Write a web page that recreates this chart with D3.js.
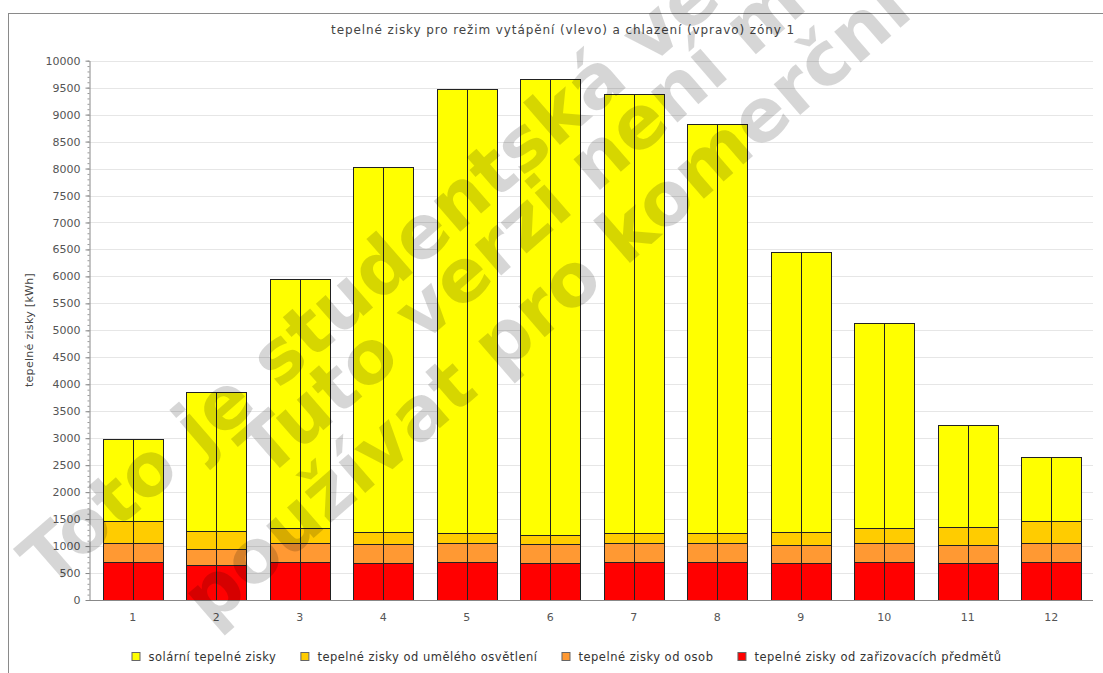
<!DOCTYPE html>
<html><head><meta charset="utf-8">
<script src="https://cdn.jsdelivr.net/npm/d3@7"></script>
<style>
body{margin:0;background:#fff;}
text{font-family:"DejaVu Sans",sans-serif;}
</style>
</head><body>
<svg id="chart" width="1103" height="673"></svg>
<script>
const months = ["1","2","3","4","5","6","7","8","9","10","11","12"];
const regimes = ["vytápění","chlazení"];
const seriesNames = ["tepelné zisky od zařizovacích předmětů","tepelné zisky od osob","tepelné zisky od umělého osvětlení","solární tepelné zisky"];
const appliances = [700, 648, 700, 682, 702, 690, 702, 702, 684, 702, 684, 702];
const people     = [348, 297, 351, 351, 349, 355, 349, 349, 342, 349, 342, 349];
const lighting   = [410, 328, 290, 222, 185, 160, 185, 185, 229, 284, 334, 414];
const solar      = [1532, 2592, 4607, 6777, 8246, 8458, 8140, 7593, 5201, 3800, 1885, 1186];
const seriesColors = ["#ff0000","#ff9933","#ffcc00","#ffff00"];
const legendOrder = [3,2,1,0];
const yTicks = d3.range(0, 10001, 500);
const yMinorTicks = d3.range(0, 10001, 100);
const chartTitle = "tepelné zisky pro režim vytápění (vlevo) a chlazení (vpravo) zóny 1";
const yTitle = "tepelné zisky [kWh]";
const watermarkLines = ["Toto je studentská verze","Tuto verzi není možné","používat pro komerční"];

const svg = d3.select("#chart");
const pLeft = 89, pRight = 1093, pTop = 60.67, pBottom = 600;

// frame
svg.append("rect").attr("x",8.5).attr("y",13.5).attr("width",1120).attr("height",700)
  .attr("fill","none").attr("stroke","#8a8a8a");

// title
svg.append("text").attr("x",563).attr("y",34).attr("text-anchor","middle")
  .attr("font-size",12).attr("letter-spacing",0.9).attr("fill","#444").text(chartTitle);

const x0 = d3.scaleBand().domain(months).range([pLeft+2, pRight]).paddingInner(0.287).paddingOuter(0.1437);
const x1 = d3.scaleBand().domain(regimes).range([0, x0.bandwidth()]).padding(0);
const y = d3.scaleLinear().domain([0,10000]).range([pBottom, pTop]);

// grid
svg.append("g").selectAll("line").data(yTicks.filter(d=>d>0)).join("line")
  .attr("x1",pLeft).attr("x2",pRight)
  .attr("y1",d=>Math.round(y(d))+0.5).attr("y2",d=>Math.round(y(d))+0.5)
  .attr("stroke","#e6e6e6").attr("stroke-width",1);

// stacked data
const rows = months.map((m,i)=>({month:m, s0:appliances[i], s1:people[i], s2:lighting[i], s3:solar[i]}));
const stack = d3.stack().keys(["s0","s1","s2","s3"]);
const stacked = stack(rows);

const barsG = svg.append("g");
stacked.forEach((layer,k)=>{
  regimes.forEach(r=>{
    barsG.append("g").selectAll("rect").data(layer).join("rect")
      .attr("x", d=>Math.round(x0(d.data.month)+x1(r))+0.5)
      .attr("width", Math.round(x1.bandwidth()))
      .attr("y", d=>Math.round(y(d[1]))+0.5)
      .attr("height", d=>Math.round(y(d[0]))-Math.round(y(d[1])))
      .attr("fill", seriesColors[k])
      .attr("stroke","#222").attr("stroke-width",1);
  });
});

// y axis
const yAxisG = svg.append("g").attr("transform",`translate(${pLeft+0.5},0)`);
yAxisG.call(d3.axisLeft(y).tickValues(yMinorTicks).tickSize(2).tickFormat(""))
  .call(g=>g.select(".domain").remove())
  .call(g=>g.selectAll("line").attr("stroke","#999"));
const yAxisMajor = svg.append("g").attr("transform",`translate(${pLeft+0.5},0)`)
  .call(d3.axisLeft(y).tickValues(yTicks).tickFormat(d3.format("d")).tickSize(4).tickPadding(5).tickSizeOuter(0));
yAxisMajor.select(".domain").attr("stroke","#888");
yAxisMajor.selectAll("line").attr("stroke","#888");
yAxisMajor.selectAll("text").attr("font-size",11).attr("fill","#555").attr("font-family","DejaVu Sans");

// x axis
const xAxis = svg.append("g").attr("transform",`translate(0,${pBottom+0.5})`)
  .call(d3.axisBottom(x0).tickSize(0).tickPadding(13).tickSizeOuter(0));
xAxis.select(".domain").attr("stroke","#888").attr("d",`M${pLeft},0H${pRight}`);
xAxis.selectAll("text").attr("font-size",11).attr("fill","#555").attr("font-family","DejaVu Sans");

// y title
svg.append("text").attr("transform","translate(33,330) rotate(-90)").attr("text-anchor","middle")
  .attr("font-size",11).attr("letter-spacing",0.3).attr("fill","#444").text(yTitle);

// legend
const leg = svg.append("g");
let lx = 0;
legendOrder.forEach(i=>{
  const g = leg.append("g").attr("transform",`translate(${lx},0)`);
  g.append("rect").attr("x",0.5).attr("y",-4.5).attr("width",8).attr("height",8)
    .attr("fill",seriesColors[i]).attr("stroke","#666");
  const t = g.append("text").attr("x",17).attr("y",4).attr("font-size",11.5)
    .attr("letter-spacing",0.5).attr("fill","#333").text(seriesNames[i]);
  lx += 17 + t.node().getComputedTextLength() + 24;
});
const legW = lx - 24;
leg.attr("transform",`translate(${566.5-legW/2},657)`);

// watermark
const wm = svg.append("g")
  .attr("font-size",74).attr("font-weight","bold").attr("fill","#000").attr("fill-opacity",0.16);
const wmPos = [[48,590],[266,480],[210,628]];
watermarkLines.forEach((s,i)=>{
  wm.append("text").attr("transform",`translate(${wmPos[i][0]},${wmPos[i][1]}) rotate(-41)`).text(s);
});
</script>
</body></html>
